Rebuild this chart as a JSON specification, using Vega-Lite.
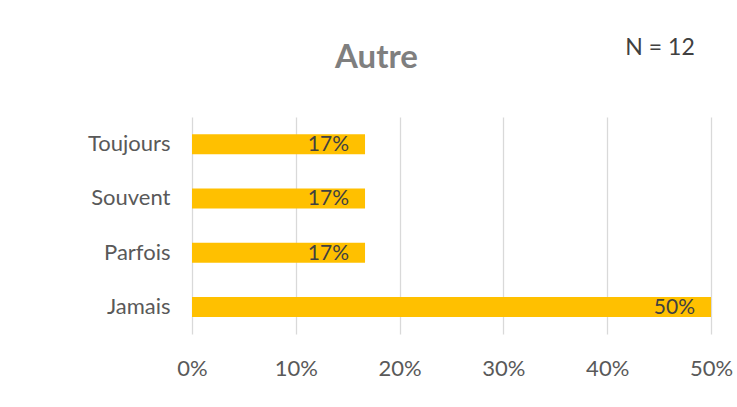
{
  "$schema": "https://vega.github.io/schema/vega-lite/v6.json",
  "width": 519,
  "height": 217,
  "autosize": {"type": "none"},
  "padding": {"left": 192, "top": 117, "right": 26, "bottom": 73},
  "background": "white",
  "config": {"view": {"stroke": null}, "font": "Lato"},
  "title": {
    "text": "Autre",
    "anchor": "middle",
    "dx": -75,
    "offset": -38,
    "fontSize": 33,
    "font": "Lato",
    "fontWeight": "bold",
    "color": "#7f7f7f"
  },
  "layer": [
    {
      "data": {"values": [
        {"categorie": "Toujours", "part": 0.1667},
        {"categorie": "Souvent", "part": 0.1667},
        {"categorie": "Parfois", "part": 0.1667},
        {"categorie": "Jamais", "part": 0.5}
      ]},
      "layer": [
        {
          "mark": {"type": "bar", "color": "#FFC000", "size": 20},
          "encoding": {
            "y": {
              "field": "categorie", "type": "nominal",
              "sort": ["Toujours", "Souvent", "Parfois", "Jamais"],
              "axis": {"title": null, "ticks": false, "domain": false, "grid": false, "labelFontSize": 22, "labelColor": "#595959", "labelPadding": 22, "labelFont": "Lato"}
            },
            "x": {
              "field": "part", "type": "quantitative",
              "scale": {"domain": [0, 0.5], "nice": false},
              "axis": {"title": null, "format": ".0%", "values": [0, 0.1, 0.2, 0.3, 0.4, 0.5], "ticks": false, "domain": false, "grid": true, "gridColor": "#d9d9d9", "gridWidth": 1.3, "labelFontSize": 22, "labelColor": "#595959", "labelPadding": 24, "labelFlush": false, "labelFont": "Lato"}
            }
          }
        },
        {
          "mark": {"type": "text", "align": "right", "baseline": "middle", "dx": -16, "dy": 1, "fontSize": 21, "font": "Lato", "color": "#404040"},
          "encoding": {
            "y": {"field": "categorie", "type": "nominal", "sort": ["Toujours", "Souvent", "Parfois", "Jamais"]},
            "x": {"field": "part", "type": "quantitative"},
            "text": {"field": "part", "type": "quantitative", "format": ".0%"}
          }
        }
      ]
    },
    {
      "data": {"values": [{"note": "N = 12"}]},
      "mark": {"type": "text", "align": "center", "baseline": "middle", "dy": -96, "fontSize": 23, "font": "Lato", "color": "#404040"},
      "encoding": {
        "x": {"datum": 0.4509, "type": "quantitative"},
        "y": {"datum": "Toujours", "type": "nominal"},
        "text": {"field": "note", "type": "nominal"}
      }
    }
  ]
}
